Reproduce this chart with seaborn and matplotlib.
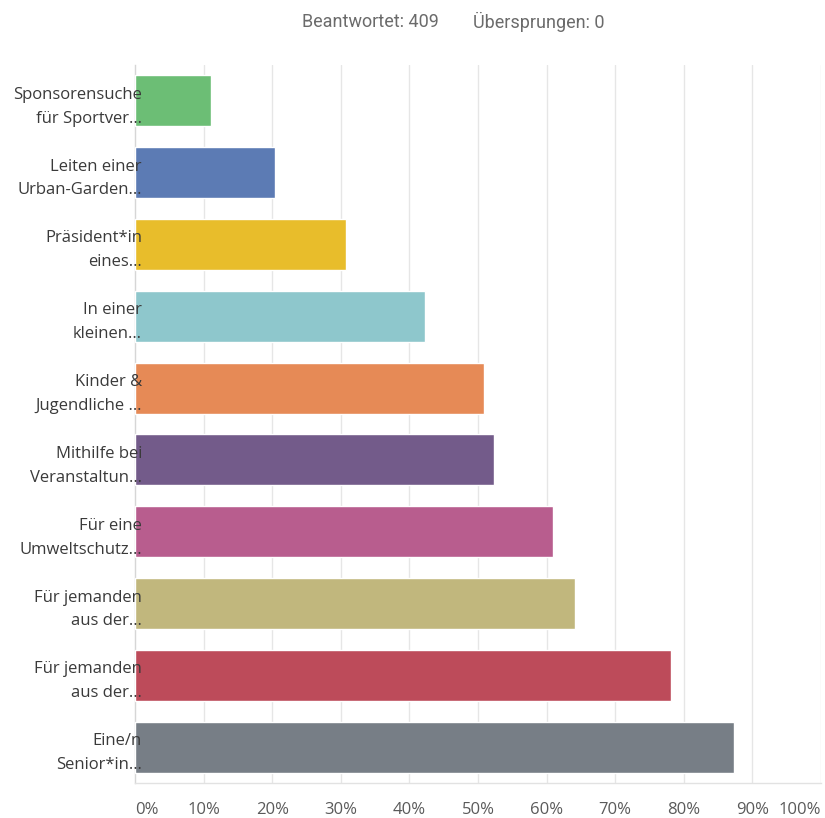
import matplotlib
matplotlib.use("Agg")
import matplotlib.pyplot as plt
import seaborn as sns
import pandas as pd

# Survey answers (share of respondents, in percent)
labels = [
    "Sponsorensuche\nfür Sportver…",
    "Leiten einer\nUrban-Garden…",
    "Präsident*in\neines…",
    "In einer\nkleinen…",
    "Kinder &\nJugendliche …",
    "Mithilfe bei\nVeranstaltun…",
    "Für eine\nUmweltschutz…",
    "Für jemanden\naus der…",
    "Für jemanden\naus der…",
    "Eine/n\nSenior*in…",
]
values = [11.1, 20.4, 30.7, 42.3, 50.9, 52.4, 61.0, 64.1, 78.1, 87.3]
colors = ["#6cbe75", "#5c7bb4", "#e8bd2b", "#8ec7cc", "#e68a56",
          "#735b8a", "#b85d8e", "#c1b77d", "#bd4b5a", "#777e86"]
x_ticks = [0, 10, 20, 30, 40, 50, 60, 70, 80, 90, 100]
x_ticklabels = ["0%", "10%", "20%", "30%", "40%", "50%", "60%", "70%", "80%", "90%", "100%"]

answered = "Beantwortet: 409"
skipped = "Übersprungen: 0"

sns.set_theme(style="white")
plt.rcParams["font.family"] = ["Open Sans", "DejaVu Sans"]

df = pd.DataFrame({"item": [str(i) for i in range(len(values))], "value": values})

fig = plt.figure(figsize=(8.25, 8.18), dpi=100)
ax = fig.add_axes([135 / 825, 1 - 783 / 818, (821 - 135) / 825, (783 - 65) / 818])

# vertical guide lines behind the bars
for t in x_ticks[1:]:
    ax.axvline(t, color="#e6e6e6", linewidth=1, zorder=0)

sns.barplot(data=df, x="value", y="item", hue="item", palette=colors,
            legend=False, width=0.71, orient="h", ax=ax, saturation=1, zorder=1)

# tick labels are drawn on top of the bars
ax.set_axisbelow(False)

ax.set_xlim(0, 100)
ax.set_xticks(x_ticks)
ax.set_xticklabels(x_ticklabels, fontsize=12, color="#5a5a5a")
tl = ax.get_xticklabels()
tl[0].set_ha("left")
tl[-1].set_ha("right")
ax.tick_params(axis="x", length=0, pad=14)

ax.set_yticks(range(len(labels)))
ax.set_yticklabels(labels, fontsize=12, color="#3a3a3a", linespacing=1.65)
ax.tick_params(axis="y", length=0, pad=-5)

ax.set_xlabel("")
ax.set_ylabel("")
ax.grid(False)

for side in ["top", "right"]:
    ax.spines[side].set_visible(False)
ax.spines["left"].set_color("#d6d6d6")
ax.spines["bottom"].set_color("#e2e2e2")
ax.spines["left"].set_linewidth(1)
ax.spines["bottom"].set_linewidth(1)
ax.spines["left"].set_zorder(0.5)
ax.spines["bottom"].set_zorder(0.5)

fig.text(370 / 825, 1 - 22 / 818, answered, ha="center", va="center",
         fontsize=13, color="#6b6b6b", family=["Roboto", "DejaVu Sans"])
fig.text(539 / 825, 1 - 22 / 818, skipped, ha="center", va="center",
         fontsize=13, color="#6b6b6b", family=["Roboto", "DejaVu Sans"])

fig.savefig("out.png", dpi=100)
